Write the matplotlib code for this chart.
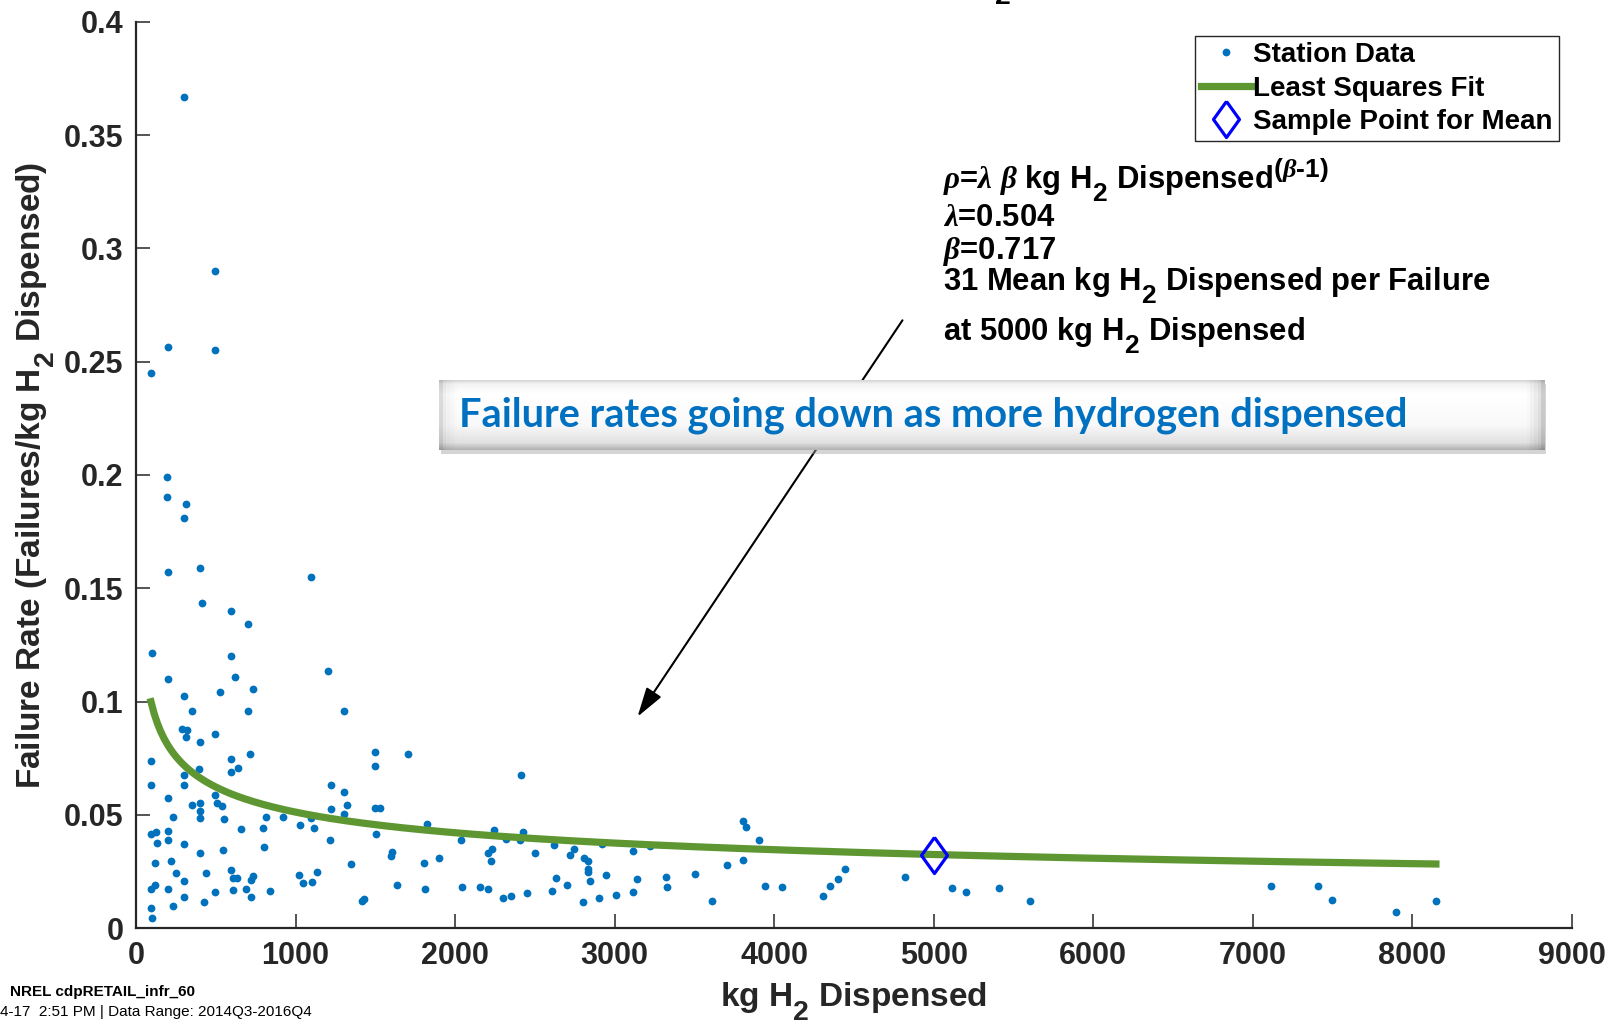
import numpy as np
import matplotlib.pyplot as plt
import matplotlib._mathtext as mathtext_internals
from matplotlib.patches import Rectangle, FancyArrowPatch

plt.rcParams['font.family'] = ['Liberation Sans', 'DejaVu Sans']
plt.rcParams['font.weight'] = 'bold'
plt.rcParams['axes.labelweight'] = 'bold'
plt.rcParams['mathtext.fontset'] = 'custom'
plt.rcParams['mathtext.rm'] = 'Liberation Sans:bold'
plt.rcParams['mathtext.bf'] = 'Liberation Sans:bold'
plt.rcParams['mathtext.it'] = 'Liberation Serif:italic'
# MATLAB-style subscripts: bigger and dropped lower than mathtext's default
mathtext_internals.SHRINK_FACTOR = 0.85
mathtext_internals.FontConstantsBase.sub1 = 0.9

# station data: kg H2 dispensed vs failure rate
kg_dispensed = [
    300, 496, 203, 496, 94, 197, 197, 314,
    300, 199, 400, 1099, 416, 598, 699, 102, 598, 199, 619, 1201, 525, 734, 300,
    352, 699, 1304, 289, 322, 314, 496, 400, 94, 598, 716, 1500, 1703, 1500, 2410,
    393, 642, 598, 300, 94, 300, 1222, 1304, 496, 506, 199, 352, 400, 540, 400,
    400, 234, 554, 816, 923, 1222, 1304, 1322, 1500, 1532, 1027, 1097, 1113, 657,
    793, 94, 126, 199, 134, 199, 300, 400, 546, 801, 1216, 1507, 1825, 2038, 2243,
    2320, 2404, 2425, 2502, 2619, 2745, 2720, 2808, 2830, 2830, 2830, 2846, 2233,
    2205, 2222, 1605, 1600, 1900, 1804, 1348, 1136, 1019, 1048, 1100, 1638, 1812,
    2046, 2153, 2205, 2302, 2348, 2452, 2605, 2630, 2703, 2804, 2902, 1417, 1430,
    839, 722, 690, 720, 734, 605, 598, 605, 634, 496, 425, 437, 300, 302, 249, 218,
    117, 94, 117, 199, 234, 94, 102,
    3805, 3821, 3904, 3805, 3705, 3506, 3610, 3944, 4048, 4303, 4347, 4402, 4442,
    4817, 5116, 5203, 5406, 5602, 7116, 7410, 7498, 7900, 8147, 3319, 3327, 3143,
    3112, 3219, 3112, 3008, 2948, 2920,
]
failure_rate = [
    0.367, 0.290, 0.2565, 0.255, 0.245, 0.199, 0.1905, 0.187,
    0.1808, 0.157, 0.159, 0.155, 0.1433, 0.140, 0.134, 0.1214, 0.120, 0.110, 0.1106,
    0.1136, 0.1044, 0.1055, 0.1024, 0.0958, 0.0958, 0.0958, 0.088, 0.0875, 0.0844,
    0.0855, 0.0819, 0.0737, 0.0747, 0.0768, 0.0778, 0.0768, 0.0716, 0.0675, 0.0703,
    0.0706, 0.069, 0.0677, 0.063, 0.063, 0.063, 0.0599, 0.0587, 0.0553, 0.0575,
    0.0543, 0.0553, 0.054, 0.0518, 0.0484, 0.0491, 0.048, 0.0491, 0.0491, 0.0524,
    0.0502, 0.0543, 0.0528, 0.0528, 0.0455, 0.0484, 0.044, 0.0435, 0.044, 0.0415,
    0.0425, 0.0429, 0.0374, 0.0388, 0.0369, 0.0332, 0.0344, 0.0357, 0.0388, 0.0415,
    0.0459, 0.0388, 0.0432, 0.0393, 0.0388, 0.0425, 0.0332, 0.0366, 0.0349, 0.0322,
    0.0307, 0.0297, 0.0259, 0.0249, 0.0206, 0.0349, 0.033, 0.0297, 0.0337, 0.0318,
    0.0307, 0.0288, 0.0282, 0.0247, 0.0235, 0.020, 0.0204, 0.019, 0.0173, 0.018,
    0.018, 0.0173, 0.0134, 0.0143, 0.0153, 0.0165, 0.0219, 0.019, 0.0113, 0.0134,
    0.0119, 0.0128, 0.0165, 0.0138, 0.0173, 0.0212, 0.0229, 0.0168, 0.0256, 0.0222,
    0.0222, 0.016, 0.0116, 0.0241, 0.0206, 0.0138, 0.0241, 0.0297, 0.0287, 0.0173,
    0.019, 0.0173, 0.0097, 0.0087, 0.0043,
    0.0471, 0.0446, 0.0387, 0.0299, 0.0277, 0.0237, 0.0119, 0.0184, 0.0181, 0.014,
    0.0184, 0.0216, 0.0262, 0.0225, 0.0177, 0.0159, 0.0177, 0.0118, 0.0187, 0.0187,
    0.0125, 0.0072, 0.0118, 0.0225, 0.0181, 0.0216, 0.0338, 0.036, 0.016, 0.0144,
    0.0232, 0.0372,
]

# fit parameters printed on the chart
lam = 0.504
beta = 0.717
sample_kg = 5000

x_ticks = [0, 1000, 2000, 3000, 4000, 5000, 6000, 7000, 8000, 9000]
x_ticklabels = ['0', '1000', '2000', '3000', '4000', '5000', '6000', '7000', '8000', '9000']
y_ticks = [0, 0.05, 0.1, 0.15, 0.2, 0.25, 0.3, 0.35, 0.4]
y_ticklabels = ['0', '0.05', '0.1', '0.15', '0.2', '0.25', '0.3', '0.35', '0.4']

W, H = 1610, 1021
fig = plt.figure(figsize=(W / 100, H / 100), dpi=100)


def fx(px):
    return px / W


def fy(py):
    return 1 - py / H


ax = fig.add_axes([fx(136), fy(928), fx(1572) - fx(136), fy(22) - fy(928)])
dark = '#262626'

fit_x = np.linspace(min(kg_dispensed), max(kg_dispensed), 400)
fit_y = lam * beta * fit_x ** (beta - 1)
sample_y = lam * beta * sample_kg ** (beta - 1)

ax.plot(kg_dispensed, failure_rate, 'o', color='#0072BD', markersize=5.6,
        markeredgewidth=0, label='Station Data', zorder=3)
ax.plot(fit_x, fit_y, '-', color='#5E9732', linewidth=5.2,
        label='Least Squares Fit', zorder=4)
diamond = [(0, 1), (0.72, 0), (0, -1), (-0.72, 0), (0, 1)]
ax.plot([sample_kg], [sample_y], linestyle='none', marker=diamond, markersize=26,
        markerfacecolor='none', markeredgecolor='#0000FF', markeredgewidth=2.3,
        label='Sample Point for Mean', zorder=5)

ax.set_xlim(0, 9000)
ax.set_ylim(0, 0.4)
ax.set_xticks(x_ticks)
ax.set_xticklabels(x_ticklabels)
ax.set_yticks(y_ticks)
ax.set_yticklabels(y_ticklabels)
ax.tick_params(direction='in', length=10, width=1.1, colors=dark,
               labelsize=22, pad=9)
for s in ['top', 'right']:
    ax.spines[s].set_visible(False)
for s in ['left', 'bottom']:
    ax.spines[s].set_linewidth(1.6)
    ax.spines[s].set_color(dark)

ax.set_xlabel('kg H$_2$ Dispensed', fontsize=24, color=dark, labelpad=7)
ax.set_ylabel('Failure Rate (Failures/kg H$_2$ Dispensed)', fontsize=24,
              color=dark, labelpad=5)

leg = ax.legend(loc='upper right', bbox_to_anchor=(fx(1559), fy(36)),
                bbox_transform=fig.transFigure, fontsize=20, frameon=True,
                fancybox=False, borderpad=0.22, labelspacing=0.27,
                handlelength=1.8, handletextpad=0.1, borderaxespad=0,
                framealpha=1)
leg.get_frame().set_edgecolor(dark)
leg.get_frame().set_linewidth(1.0)

# title, cropped by the top edge of the image
fig.text(fx(1011), fy(-9.5), 'Failure Rate vs. kg H$_2$', ha='right',
         va='baseline', fontsize=24, color='black')

# fit annotation
ann_lines = [
    (188, r'$\rho$=$\lambda$ $\beta$ kg H$_2$ Dispensed$^{(\beta\text{-}1)}$'),
    (226, r'$\lambda$=0.504'),
    (259, r'$\beta$=0.717'),
    (290, '31 Mean kg H$_2$ Dispensed per Failure'),
    (340, 'at 5000 kg H$_2$ Dispensed'),
]
for py, s in ann_lines:
    fig.text(fx(943), fy(py), s, ha='left', va='baseline', fontsize=22.3,
             color='black')

arrow = FancyArrowPatch((fx(904), fy(318)), (fx(636), fy(719)),
                        transform=fig.transFigure,
                        arrowstyle='-|>,head_length=1.0,head_width=0.3',
                        mutation_scale=18, color='black', linewidth=1.5)
fig.patches.append(arrow)

# highlighted callout box
bx0, by0, bx1, by1 = 439, 380, 1544, 450
shadow = Rectangle((fx(bx0 + 2), fy(by1 + 4)), fx(bx1 - bx0), fy(by0) - fy(by1),
                   transform=fig.transFigure, facecolor='#a0a0a0', alpha=0.45,
                   edgecolor='none', zorder=8)
fig.patches.append(shadow)
bax = fig.add_axes([fx(bx0), fy(by1), fx(bx1 - bx0), fy(by0) - fy(by1)], zorder=10)
rows = np.linspace(0, 1, 70)
vert = np.interp(rows, [0, 0.05, 0.2, 0.65, 0.9, 1.0], [0.84, 0.95, 1.0, 0.97, 0.88, 0.7])
cols = np.linspace(0, 1, 300)
horiz = np.interp(cols, [0, 0.004, 0.015, 0.985, 0.996, 1.0], [0.86, 0.95, 1.0, 1.0, 0.9, 0.8])
grad = np.clip(vert[:, None] * horiz[None, :], 0, 1)
bax.imshow(grad, cmap='gray', vmin=0, vmax=1, aspect='auto',
           extent=[0, 1, 0, 1], origin='upper')
bax.set_xlim(0, 1)
bax.set_ylim(0, 1)
bax.axis('off')
bax.text(0.018, 0.5, 'Failure rates going down as more hydrogen dispensed',
         transform=bax.transAxes, ha='left', va='center', fontsize=28.6,
         fontfamily=['Lato', 'DejaVu Sans'], fontweight='bold', color='#0070C0')

# footer
fig.text(fx(10), fy(996), 'NREL cdpRETAIL_infr_60', fontsize=11, color='black',
         ha='left', va='baseline')
fig.text(fx(0), fy(1016), '4-17  2:51 PM | Data Range: 2014Q3-2016Q4',
         fontsize=11, fontweight='normal', color='black', ha='left', va='baseline')

fig.savefig('out.png', dpi=100)
